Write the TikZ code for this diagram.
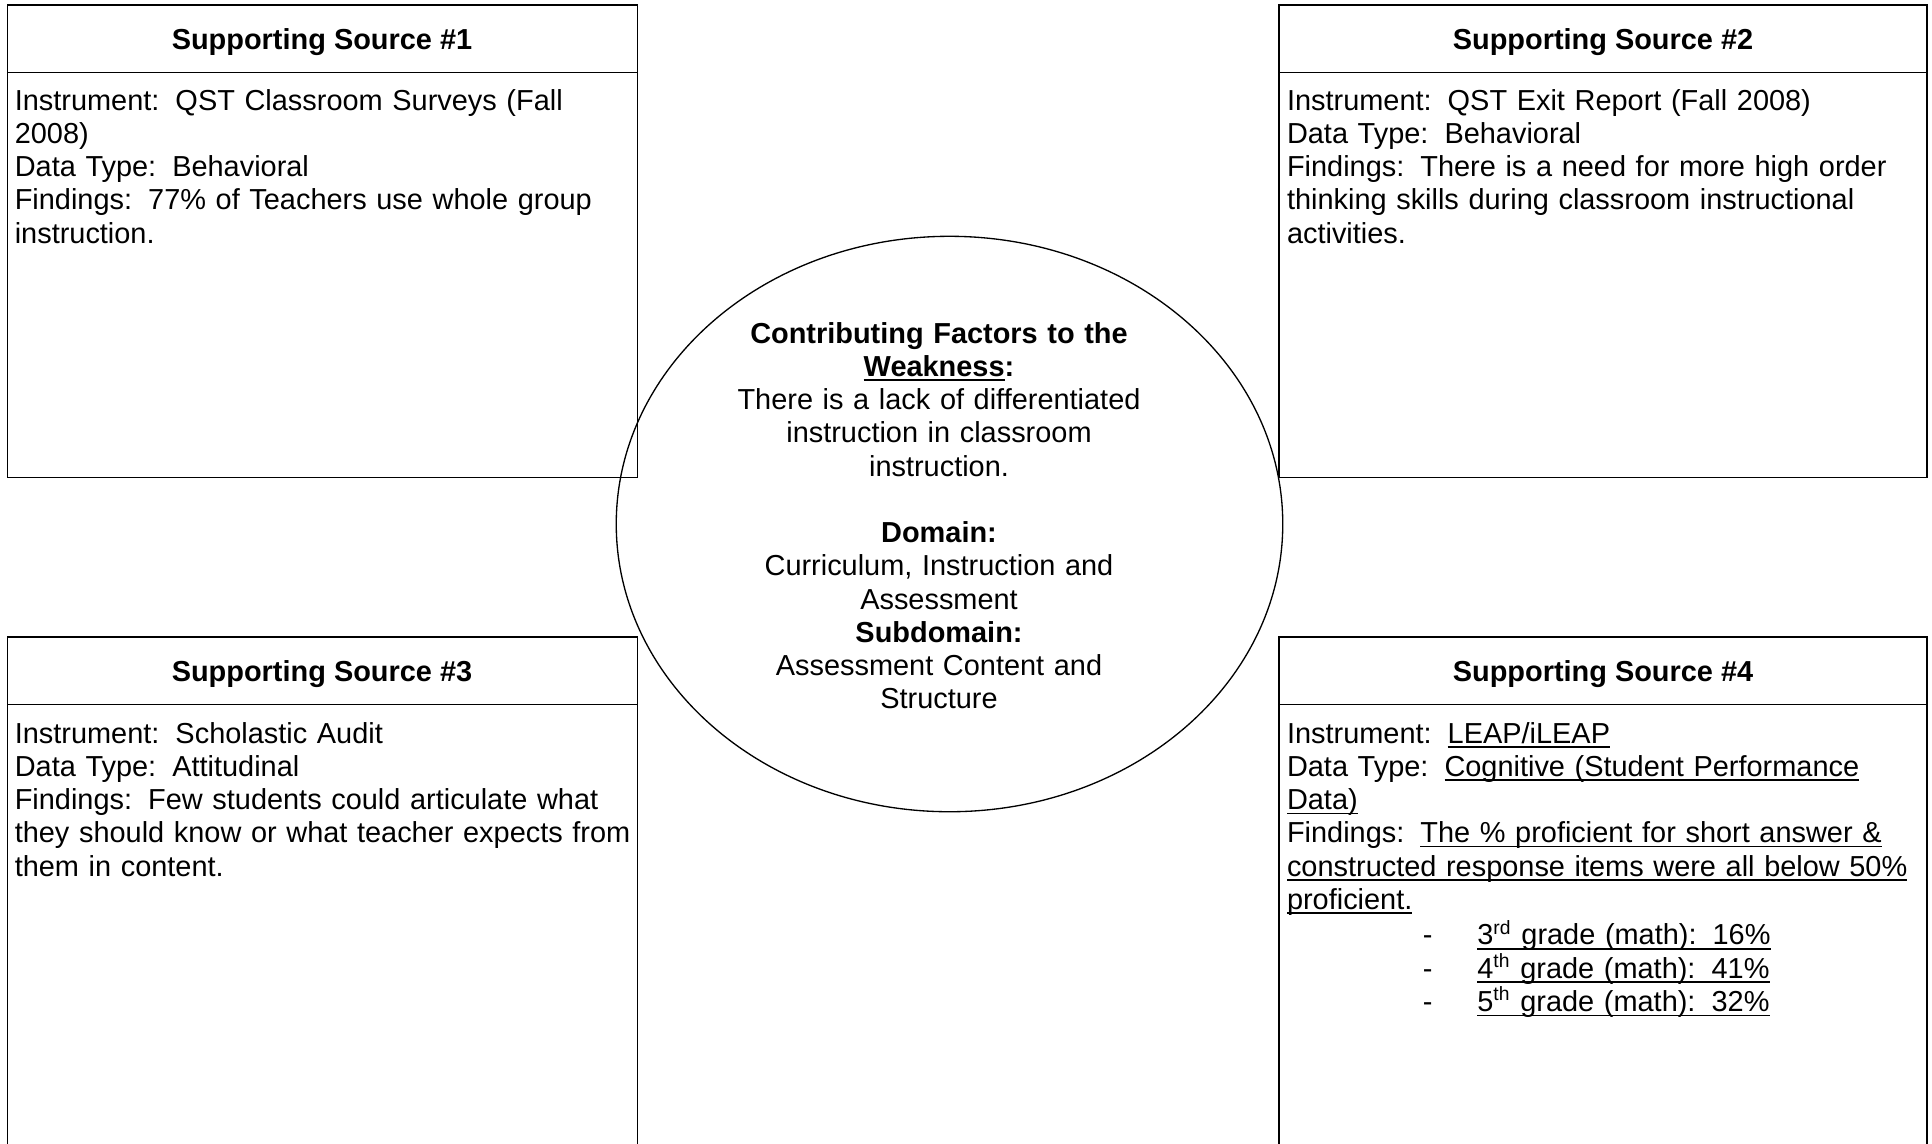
\documentclass[tikz,border=0pt]{standalone}
\usepackage{fontspec}
\setmainfont{Liberation Sans}
\usetikzlibrary{shapes.geometric}
\newsavebox{\ulbox}
\newcommand{\ulx}[1]{\leavevmode\sbox{\ulbox}{#1}\rlap{\rule[-1.9pt]{\wd\ulbox}{0.6pt}}\usebox{\ulbox}}
\newcommand{\ds}{\hspace{0.556em}}
\frenchspacing
\begin{document}
\begin{tikzpicture}[x=0.415pt,y=-0.415pt,
  every node/.style={inner sep=0pt, outer sep=0pt, font=\fontsize{12}{13.8}\selectfont},
  head/.style={font=\fontsize{12}{13.8}\selectfont\bfseries, anchor=base},
  body/.style={anchor=base west, align=left, text width=320pt},
  frame/.style={draw=black, line width=0.45pt},
  leftbox/.style={frame, anchor=north west, minimum width=261.3pt},
  rightbox/.style={frame, anchor=north west, minimum width=268.9pt},
  topbox/.style={minimum height=195.9pt},
  lowbox/.style={minimum height=230pt}]
\useasboundingbox (0,0) rectangle (1932,1143);
\clip (0,0) rectangle (1932,1143);

% boxes
\node[leftbox, topbox] (s1) at (7.4,5) {};
\node[rightbox, topbox] (s2) at (1279,5) {};
\node[leftbox, lowbox] (s3) at (7.4,637) {};
\node[rightbox, lowbox] (s4) at (1279,637) {};
\foreach \b in {s1,s2,s3,s4}{
  \draw[frame] ([yshift=-28.1pt]\b.north west) -- ([yshift=-28.1pt]\b.north east);
}

% headers
\node[head] (h1) at (322,49) {Supporting Source \#1};
\node[head] (h2) at (1603,49) {Supporting Source \#2};
\node[head] (h3) at (322,681) {Supporting Source \#3};
\node[head] (h4) at (1603,681) {Supporting Source \#4};

% bodies
\node[body] (t1) at (14.8,110) {Instrument:\ds QST Classroom Surveys (Fall\\
2008)\\
Data Type:\ds Behavioral\\
Findings:\ds 77\% of Teachers use whole group\\
instruction.};

\node[body] (t2) at (1287,110) {Instrument:\ds QST Exit Report (Fall 2008)\\
Data Type:\ds Behavioral\\
Findings:\ds There is a need for more high order\\
thinking skills during classroom instructional\\
activities.};

\node[body] (t3) at (14.8,743) {Instrument:\ds Scholastic Audit\\
Data Type:\ds Attitudinal\\
Findings:\ds Few students could articulate what\\
they should know or what teacher expects from\\
them in content.};

\node[body] (t4) at (1287,743) {Instrument:\ds \ulx{LEAP/iLEAP}\\
Data Type:\ds \ulx{Cognitive (Student Performance}\\
\ulx{Data)}\\
Findings:\ds \ulx{The \% proficient for short answer \&}\\
\ulx{constructed response items were all below 50\%}\\
\ulx{proficient.}\\[1pt]
\hspace*{56.4pt}\makebox[22.6pt][l]{-}\ulx{3\textsuperscript{rd} grade (math):\ds 16\%}\\
\hspace*{56.4pt}\makebox[22.6pt][l]{-}\ulx{4\textsuperscript{th} grade (math):\ds 41\%}\\
\hspace*{56.4pt}\makebox[22.6pt][l]{-}\ulx{5\textsuperscript{th} grade (math):\ds 32\%}};

% central ellipse
\node[ellipse, frame, line width=0.55pt, minimum width=276.6pt, minimum height=238.8pt] (cf) at (949.5,524) {};
\node[anchor=base, align=center, text width=300pt] (ct) at (939,343) {\textbf{Contributing Factors to the}\\
\textbf{\ulx{Weakness}:}\\
There is a lack of differentiated\\
instruction in classroom\\
instruction.\\
~\\
\textbf{Domain:}\\
Curriculum, Instruction and\\
Assessment\\
\textbf{Subdomain:}\\
Assessment Content and\\
Structure};
\end{tikzpicture}
\end{document}
